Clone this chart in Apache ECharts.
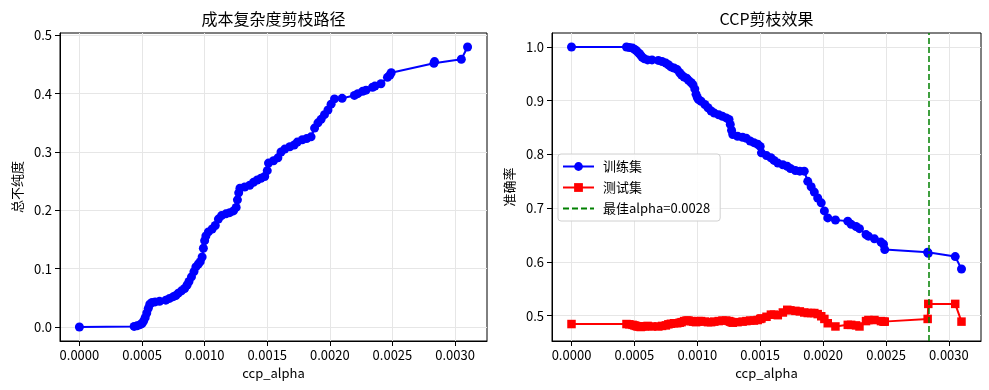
<!DOCTYPE html>
<html><head><meta charset="utf-8">
<script src="https://cdn.jsdelivr.net/npm/echarts@6/dist/echarts.min.js"></script>
<style>html,body{margin:0;padding:0;background:#fff}#c{width:989px;height:390px}</style>
</head><body><div id="c"></div><script>
const alphas = [0, 0.000437, 0.000460, 0.000485, 0.000500, 0.000512, 0.000525, 0.000538, 0.000550, 0.000562,
  0.000580, 0.000605, 0.000640, 0.000690, 0.000720, 0.000750, 0.000770, 0.000790, 0.000815, 0.000840,
  0.000860, 0.000875, 0.000895, 0.000915, 0.000930, 0.000950, 0.000965, 0.000980, 0.000990, 0.001000,
  0.001010, 0.001030, 0.001060, 0.001085, 0.001110, 0.001135, 0.001170, 0.001200, 0.001230, 0.001252,
  0.001262, 0.001272, 0.001282, 0.001320, 0.001360, 0.001390, 0.001420, 0.001450, 0.001480, 0.001500,
  0.001510, 0.001550, 0.001585, 0.001610, 0.001640, 0.001680, 0.001715, 0.001740, 0.001780, 0.001815,
  0.001850, 0.001878, 0.001905, 0.001930, 0.001957, 0.001985, 0.002010, 0.002037, 0.002098, 0.002196,
  0.002223, 0.002262, 0.002289, 0.002341, 0.002360, 0.002408, 0.002460, 0.002480, 0.002490, 0.002831,
  0.002836, 0.003050, 0.003100];
const impurities = [0.000, 0.001, 0.002, 0.004, 0.006, 0.010, 0.016, 0.024, 0.032, 0.039,
  0.042, 0.043, 0.044, 0.046, 0.049, 0.052, 0.054, 0.058, 0.062, 0.066,
  0.072, 0.078, 0.086, 0.095, 0.103, 0.108, 0.112, 0.120, 0.135, 0.148,
  0.156, 0.163, 0.168, 0.174, 0.185, 0.191, 0.194, 0.196, 0.199, 0.205,
  0.218, 0.230, 0.238, 0.240, 0.243, 0.248, 0.252, 0.255, 0.258, 0.268,
  0.281, 0.285, 0.290, 0.300, 0.305, 0.309, 0.312, 0.317, 0.321, 0.323,
  0.326, 0.341, 0.350, 0.356, 0.364, 0.372, 0.382, 0.391, 0.392, 0.397,
  0.400, 0.404, 0.406, 0.411, 0.413, 0.417, 0.428, 0.432, 0.436, 0.452,
  0.455, 0.459, 0.480];
const trainAcc = [1.000, 1.000, 0.999, 0.998, 0.996, 0.994, 0.991, 0.988, 0.985, 0.981,
  0.978, 0.976, 0.976, 0.975, 0.973, 0.970, 0.967, 0.963, 0.961, 0.958,
  0.952, 0.948, 0.944, 0.942, 0.938, 0.934, 0.930, 0.922, 0.912, 0.906,
  0.902, 0.899, 0.893, 0.887, 0.881, 0.877, 0.874, 0.871, 0.868, 0.865,
  0.856, 0.845, 0.837, 0.834, 0.832, 0.830, 0.825, 0.822, 0.819, 0.815,
  0.803, 0.798, 0.794, 0.789, 0.784, 0.781, 0.778, 0.774, 0.770, 0.769,
  0.769, 0.750, 0.740, 0.730, 0.719, 0.710, 0.695, 0.682, 0.678, 0.676,
  0.670, 0.666, 0.662, 0.651, 0.648, 0.643, 0.637, 0.633, 0.623, 0.618,
  0.616, 0.610, 0.587];
const testAcc = [0.4845, 0.4845, 0.484, 0.483, 0.482, 0.481, 0.480, 0.480, 0.479, 0.480,
  0.480, 0.481, 0.480, 0.480, 0.481, 0.482, 0.484, 0.485, 0.486, 0.486,
  0.487, 0.488, 0.490, 0.491, 0.491, 0.490, 0.489, 0.489, 0.488, 0.489,
  0.490, 0.490, 0.489, 0.488, 0.488, 0.489, 0.490, 0.491, 0.491, 0.490,
  0.489, 0.488, 0.487, 0.488, 0.489, 0.490, 0.491, 0.491, 0.492, 0.494,
  0.495, 0.498, 0.502, 0.502, 0.501, 0.506, 0.511, 0.510, 0.509, 0.508,
  0.506, 0.505, 0.505, 0.505, 0.503, 0.499, 0.494, 0.486, 0.480, 0.483,
  0.483, 0.482, 0.480, 0.490, 0.492, 0.492, 0.490, 0.489, 0.489, 0.494,
  0.522, 0.522, 0.489];
const bestAlpha = 0.002836;
const xTicks = [0, 0.0005, 0.001, 0.0015, 0.002, 0.0025, 0.003];
const impTicks = [0, 0.1, 0.2, 0.3, 0.4, 0.5];
const accTicks = [0.5, 0.6, 0.7, 0.8, 0.9, 1.0];
const titles = ['成本复杂度剪枝路径', 'CCP剪枝效果'];
const xName = 'ccp_alpha';
const yNames = ['总不纯度', '准确率'];
const legendNames = ['训练集', '测试集', '最佳alpha=0.0028'];

const FONT = "'Noto Sans CJK SC', sans-serif";
const pad = v => v.min - 0.05 * (v.max - v.min);
const padMax = v => v.max + 0.05 * (v.max - v.min);

function xAxis(gi) {
  return {
    type: 'value', gridIndex: gi, min: pad, max: padMax, interval: 0.0005,
    name: xName, nameLocation: 'middle', nameGap: 24,
    nameTextStyle: { fontFamily: FONT, fontSize: 13, color: '#000' },
    axisLine: { show: true, onZero: false, lineStyle: { color: '#000', width: 1 } },
    axisTick: { show: true, inside: false, length: 5, customValues: xTicks, lineStyle: { color: '#000' } },
    axisLabel: { customValues: xTicks, margin: 8, fontFamily: FONT, fontSize: 13, color: '#000',
      formatter: v => v.toFixed(4) },
    splitLine: { show: true, lineStyle: { color: '#e6e6e6', width: 1 } }
  };
}
function yAxis(gi, ticks, name) {
  return {
    type: 'value', gridIndex: gi, min: pad, max: padMax, interval: 0.1,
    name: name, nameLocation: 'middle', nameGap: 36, nameRotate: 90,
    nameTextStyle: { fontFamily: FONT, fontSize: 13, color: '#000' },
    axisLine: { show: true, onZero: false, lineStyle: { color: '#000', width: 1 } },
    axisTick: { show: true, inside: false, length: 5, customValues: ticks, lineStyle: { color: '#000' } },
    axisLabel: { customValues: ticks, margin: 8, fontFamily: FONT, fontSize: 13, color: '#000',
      formatter: v => v.toFixed(1) },
    splitLine: { show: true, lineStyle: { color: '#e6e6e6', width: 1 } }
  };
}

const chart = echarts.init(document.getElementById('c'), null, { renderer: 'canvas' });
chart.setOption({
  animation: false,
  backgroundColor: '#fff',
  title: [
    { text: titles[0], left: 273.5, top: 10, textAlign: 'center', padding: 0,
      textStyle: { fontFamily: FONT, fontSize: 16, fontWeight: 'normal', color: '#000', lineHeight: 18 } },
    { text: titles[1], left: 766.5, top: 10, textAlign: 'center', padding: 0,
      textStyle: { fontFamily: FONT, fontSize: 16, fontWeight: 'normal', color: '#000', lineHeight: 18 } }
  ],
  grid: [
    { left: 60, top: 33, width: 427, height: 308, show: true, borderColor: '#000', borderWidth: 1, containLabel: false },
    { left: 552, top: 33, width: 429, height: 308, show: true, borderColor: '#000', borderWidth: 1, containLabel: false }
  ],
  legend: {
    data: [
      { name: legendNames[0] },
      { name: legendNames[1] },
      { name: legendNames[2], itemStyle: { color: 'rgba(0,0,0,0)', borderWidth: 0, opacity: 0 } }
    ],
    orient: 'vertical', left: 558, top: 154,
    itemWidth: 31, itemHeight: 11, itemGap: 8, padding: [6, 10, 6, 4],
    backgroundColor: 'rgba(255,255,255,0.85)', borderColor: '#d0d0d0', borderWidth: 1, borderRadius: 3,
    textStyle: { fontFamily: FONT, fontSize: 13, color: '#000', padding: [0, 0, 0, 4] }
  },
  xAxis: [xAxis(0), xAxis(1)],
  yAxis: [yAxis(0, impTicks, yNames[0]), yAxis(1, accTicks, yNames[1])],
  series: [
    { name: 'path', type: 'line', xAxisIndex: 0, yAxisIndex: 0,
      data: alphas.map((a, i) => [a, impurities[i]]),
      symbol: 'circle', symbolSize: 9, showAllSymbol: true,
      lineStyle: { color: '#0000ff', width: 2 }, itemStyle: { color: '#0000ff' } },
    { name: legendNames[0], type: 'line', xAxisIndex: 1, yAxisIndex: 1,
      data: alphas.map((a, i) => [a, trainAcc[i]]),
      symbol: 'circle', symbolSize: 9, showAllSymbol: true,
      lineStyle: { color: '#0000ff', width: 2 }, itemStyle: { color: '#0000ff' } },
    { name: legendNames[1], type: 'line', xAxisIndex: 1, yAxisIndex: 1,
      data: alphas.map((a, i) => [a, testAcc[i]]),
      symbol: 'rect', symbolSize: 8.5, showAllSymbol: true,
      lineStyle: { color: '#ff0000', width: 2 }, itemStyle: { color: '#ff0000' },
      markLine: { silent: true, precision: 8, symbol: ['none', 'none'], label: { show: false },
        lineStyle: { color: '#008000', width: 1.5, type: [6, 3] },
        emphasis: { disabled: true },
        data: [{ xAxis: bestAlpha }] } },
    { name: legendNames[2], type: 'line', xAxisIndex: 1, yAxisIndex: 1, data: [],
      symbol: 'none', lineStyle: { color: '#008000', width: 1.5, type: [6, 3] }, itemStyle: { color: '#008000' } }
  ]
});
</script></body></html>
